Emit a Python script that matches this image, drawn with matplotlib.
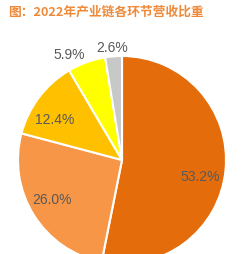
import numpy as np
import matplotlib.pyplot as plt

plt.rcParams['font.family'] = ['Noto Sans CJK SC', 'DejaVu Sans']

title = '图：2022年产业链各环节营收比重'
shares = [53.2, 26.0, 12.4, 5.9, 2.6]
labels = ['53.2%', '26.0%', '12.4%', '5.9%', '2.6%']
colors = ['#E46C0A', '#F79646', '#FFC000', '#FFFF00', '#C8C8C8']
# label placement: fraction of radius, angle shift (deg) from wedge middle
label_dist = [0.765, 0.77, 0.755, 1.135, 1.09]
label_shift = [-5.8, -2.6, 6.0, 6.5, 0.5]

fig = plt.figure(figsize=(2.47, 2.55), dpi=100)
ax = fig.add_axes([0, 0, 1, 1])

cx, cy, r = 122, 94, 104
wedges, _ = ax.pie(shares, colors=colors, startangle=90, counterclock=False,
                   center=(cx, cy), radius=r, frame=True,
                   wedgeprops=dict(edgecolor='white', linewidth=1.5))
ax.set_xlim(0, 247)
ax.set_ylim(0, 255)
ax.set_aspect('equal')
ax.axis('off')

for w, lab, d, s in zip(wedges, labels, label_dist, label_shift):
    ang = np.deg2rad((w.theta1 + w.theta2) / 2 + s)
    ax.text(cx + d * r * np.cos(ang), cy + d * r * np.sin(ang), lab,
            ha='center', va='center', fontsize=10, color='#595959',
            family='Liberation Sans')

fig.text(8 / 247, 1 - 12 / 255, title, ha='left', va='center',
         fontsize=9.2, fontweight='bold', color='#EE8A3A')

fig.savefig('out.png', dpi=100)
